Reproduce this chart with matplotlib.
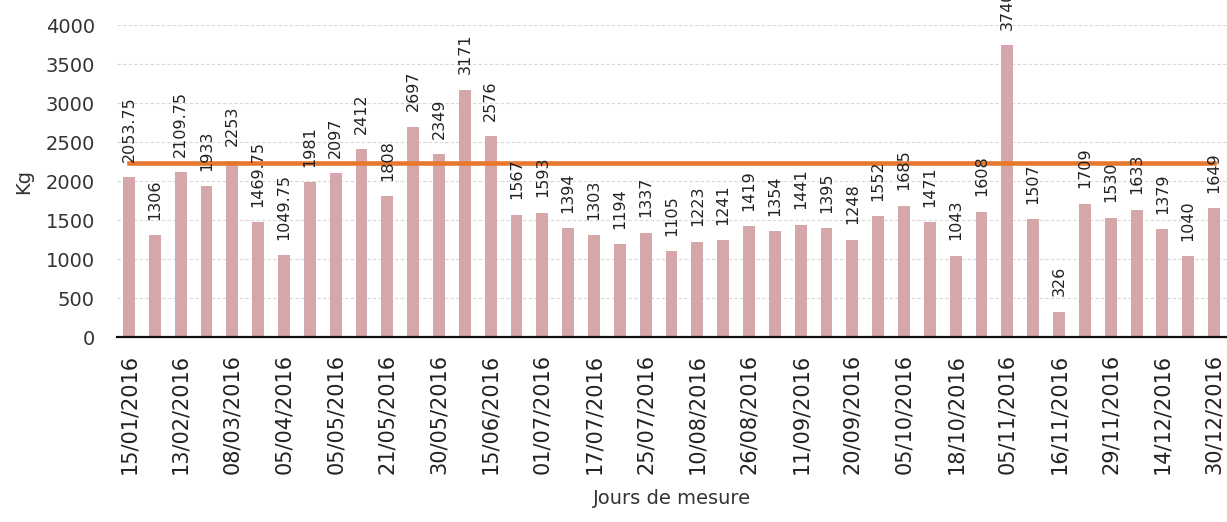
"""Masses mesurees par jour de mesure (2016) avec ligne de reference."""

import matplotlib.pyplot as plt
import numpy as np

values = [2053.75, 1306, 2109.75, 1933, 2253, 1469.75, 1049.75, 1981, 2097, 2412,
          1808, 2697, 2349, 3171, 2576, 1567, 1593, 1394, 1303, 1194,
          1337, 1105, 1223, 1241, 1419, 1354, 1441, 1395, 1248, 1552,
          1685, 1471, 1043, 1608, 3740, 1507, 326, 1709, 1530, 1633,
          1379, 1040, 1649]
value_labels = ["2053.75", "1306", "2109.75", "1933", "2253", "1469.75", "1049.75",
                "1981", "2097", "2412", "1808", "2697", "2349", "3171", "2576",
                "1567", "1593", "1394", "1303", "1194", "1337", "1105", "1223",
                "1241", "1419", "1354", "1441", "1395", "1248", "1552", "1685",
                "1471", "1043", "1608", "3740", "1507", "326", "1709", "1530",
                "1633", "1379", "1040", "1649"]
tick_labels = ["15/01/2016", "13/02/2016", "08/03/2016", "05/04/2016", "05/05/2016",
               "21/05/2016", "30/05/2016", "15/06/2016", "01/07/2016", "17/07/2016",
               "25/07/2016", "10/08/2016", "26/08/2016", "11/09/2016", "20/09/2016",
               "05/10/2016", "18/10/2016", "05/11/2016", "16/11/2016", "29/11/2016",
               "14/12/2016", "30/12/2016"]
reference_level = 2230

BAR_COLOR = "#d6a7a8"
LINE_COLOR = "#e8772e"


def main():
    x = np.arange(len(values))
    fig = plt.figure(figsize=(12.27, 5.22), dpi=100)
    ax = fig.add_axes([0.0954, 0.3544, 0.9046, 0.5977])

    ax.bar(x, values, width=0.46, color=BAR_COLOR, zorder=2)
    ax.plot(x, [reference_level] * len(x), color=LINE_COLOR, linewidth=3.3, zorder=3)

    for xi, v, lab in zip(x, values, value_labels):
        ax.annotate(lab, (xi, v), xytext=(0, 11), textcoords="offset points",
                    rotation=90, ha="center", va="bottom", fontsize=11.5,
                    color="#222222", zorder=4, annotation_clip=False)

    ax.set_xlim(-0.46, len(values) - 1 + 0.5)
    ax.set_ylim(0, 4000)
    ax.set_yticks(np.arange(0, 4001, 500))
    ax.set_xticks(x[::2])
    ax.set_xticklabels(tick_labels, rotation=90)
    ax.tick_params(axis="y", length=0, pad=16, labelsize=14, labelcolor="#333333")
    ax.tick_params(axis="x", length=0, pad=12, labelsize=15, labelcolor="#222222")

    ax.grid(axis="y", color="#d8d8d8", linewidth=0.8, linestyle=(0, (3, 2)), zorder=0)
    for side in ("top", "right", "left"):
        ax.spines[side].set_visible(False)
    ax.spines["bottom"].set_color("#111111")
    ax.spines["bottom"].set_linewidth(1.6)
    ax.spines["bottom"].set_zorder(5)

    ax.set_xlabel("Jours de mesure", fontsize=14, color="#333333", labelpad=11)
    ax.set_ylabel("Kg", fontsize=14, color="#333333", labelpad=9)

    fig.savefig("out.png", dpi=100)


if __name__ == "__main__":
    main()
